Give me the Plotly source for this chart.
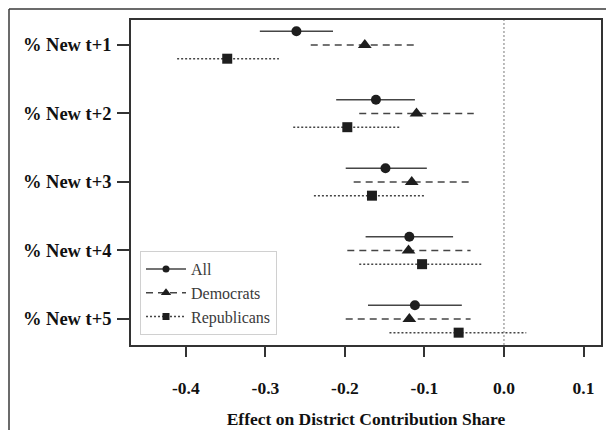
import plotly.graph_objects as go

categories = ["% New t+1", "% New t+2", "% New t+3", "% New t+4", "% New t+5"]
x_tick_vals = [-0.4, -0.3, -0.2, -0.1, 0.0, 0.1]
x_tick_text = ["-0.4", "-0.3", "-0.2", "-0.1", "0.0", "0.1"]

all_est = [-0.261, -0.161, -0.149, -0.119, -0.112]
all_lo = [-0.307, -0.211, -0.199, -0.174, -0.171]
all_hi = [-0.215, -0.112, -0.097, -0.064, -0.053]

dem_est = [-0.175, -0.110, -0.116, -0.120, -0.119]
dem_lo = [-0.243, -0.182, -0.189, -0.197, -0.199]
dem_hi = [-0.110, -0.038, -0.044, -0.042, -0.042]

rep_est = [-0.348, -0.197, -0.166, -0.103, -0.057]
rep_lo = [-0.411, -0.265, -0.239, -0.182, -0.144]
rep_hi = [-0.283, -0.131, -0.099, -0.028, 0.028]

series = [
    ("All", all_est, all_lo, all_hi, -0.2, "solid", "circle", 10),
    ("Democrats", dem_est, dem_lo, dem_hi, 0.0, "7px,5px", "triangle-up", 12),
    ("Republicans", rep_est, rep_lo, rep_hi, 0.2, "2px,2px", "square", 10),
]

LINE_COL = "#454545"
MARK_COL = "#1e1e1e"
SERIF = "Liberation Serif, Times New Roman, serif"

fig = go.Figure()
pos = list(range(1, len(categories) + 1))

for name, est, lo, hi, off, dash, sym, msz in series:
    xs, ys = [], []
    for p, l, h in zip(pos, lo, hi):
        xs += [l, h, None]
        ys += [p + off, p + off, None]
    fig.add_trace(go.Scatter(x=xs, y=ys, mode="lines", showlegend=False,
                             line=dict(color=LINE_COL, width=1.5, dash=dash),
                             hoverinfo="skip"))
    fig.add_trace(go.Scatter(x=est, y=[p + off for p in pos], mode="markers",
                             showlegend=False,
                             marker=dict(symbol=sym, size=msz, color=MARK_COL),
                             name=name))
    fig.add_trace(go.Scatter(x=[None], y=[None], mode="lines+markers", name=name,
                             line=dict(color=LINE_COL, width=1.5, dash=dash),
                             marker=dict(symbol=sym, size=msz - 3, color=MARK_COL)))

fig.add_vline(x=0, line=dict(color="#7a7a7a", width=1, dash="2px,2px"))

# page body has an 8px margin: figure coordinates are offset by 8px
OFF = 8
W, H = 614 - OFF, 430 - OFF
L, R, T, B = 131 - OFF, 13, 20 - OFF, 85
pw, ph = W - L - R, H - T - B
def px(x):
    return (x - OFF - L) / pw
def py(y):
    return (H - B - (y - OFF)) / ph
fig.add_shape(type="line", xref="paper", yref="paper", x0=px(9), x1=px(9), y0=py(9), y1=py(440),
              line=dict(color="#3a3a3a", width=1.5))
fig.add_shape(type="line", xref="paper", yref="paper", x0=px(9), x1=px(620), y0=py(9), y1=py(9),
              line=dict(color="#3a3a3a", width=1.5))

fig.update_layout(
    width=W, height=H,
    margin=dict(l=L, r=R, t=T, b=B, autoexpand=False),
    paper_bgcolor="white", plot_bgcolor="white",
    font=dict(family=SERIF, color="#111"),
    legend=dict(x=px(140), y=py(251), xanchor="left", yanchor="top",
                bgcolor="rgba(255,255,255,1)", bordercolor="#d0d0d0", borderwidth=1,
                font=dict(family=SERIF, size=16, color="#3a3a3a"),
                itemwidth=40, tracegroupgap=0),
    xaxis=dict(range=[-0.469, 0.122], tickvals=x_tick_vals, ticktext=x_tick_text,
               showgrid=False, zeroline=False, showline=True, mirror=True,
               linecolor="#333", linewidth=1.5, ticks="outside", ticklen=10,
               tickcolor="#333", tickwidth=1.5, ticklabelstandoff=16,
               tickfont=dict(family=SERIF, size=17.5, color="#111", weight="bold"),
               title=dict(text="<b>Effect on District Contribution Share</b>",
                          font=dict(family=SERIF, size=17.5, color="#111"), standoff=16),
               automargin=False),
    yaxis=dict(range=[5.38, 0.635], tickvals=pos, ticktext=categories,
               showgrid=False, zeroline=False, showline=True, mirror=True,
               linecolor="#333", linewidth=1.5, ticks="outside", ticklen=12,
               tickcolor="#333", tickwidth=1.5, ticklabelstandoff=2,
               tickfont=dict(family=SERIF, size=18.5, color="#111", weight="bold"),
               automargin=False),
)

fig.write_html("out.html")
